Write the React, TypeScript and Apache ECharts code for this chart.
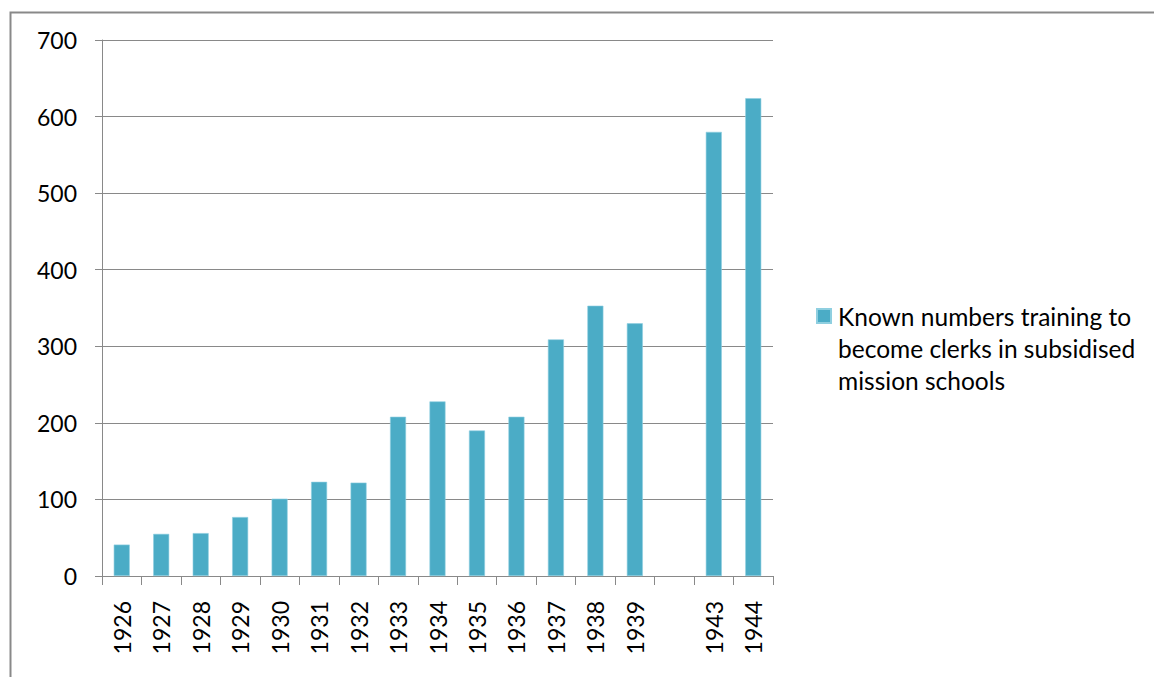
import React, { useEffect, useRef } from "react";
import * as echarts from "echarts";

// Years on the category axis; the blank entry leaves a gap for 1940–1942.
const years = [
  "1926", "1927", "1928", "1929", "1930", "1931", "1932", "1933", "1934",
  "1935", "1936", "1937", "1938", "1939", "", "1943", "1944",
];

// Known numbers of pupils training to become clerks.
const clerks = [
  41, 55, 56, 77, 101, 123, 122, 208, 228, 190, 208, 309, 353, 330, null, 580, 624,
];

const yTicks = { min: 0, max: 700, interval: 100 };

const seriesName =
  "Known numbers training to\nbecome clerks in subsidised\nmission schools";

// Two empty lines ahead of the name keep the legend swatch level with its first line.
const legendLabel = "\n\n" + seriesName;

const FONT = "Lato, 'Open Sans', sans-serif";
const GREY = "#898989";
const BAR = "#4BACC6";

export default function App() {
  const ref = useRef<HTMLDivElement>(null);

  useEffect(() => {
    if (!ref.current) return;
    const chart = echarts.init(ref.current, null, { renderer: "svg" });
    chart.setOption({
      animation: false,
      backgroundColor: "#ffffff",
      textStyle: { fontFamily: FONT },
      graphic: [
        {
          type: "rect",
          left: 8,
          top: 10,
          shape: { width: 1400, height: 900 },
          style: { fill: "none", stroke: GREY, lineWidth: 2 },
          silent: true,
        },
      ],
      grid: { left: 102, right: 381, top: 40, bottom: 101 },
      legend: {
        left: 816,
        top: 236,
        padding: 0,
        orient: "vertical",
        icon: "rect",
        itemWidth: 14,
        itemHeight: 14,
        selectedMode: false,
        formatter: () => legendLabel,
        textStyle: {
          fontFamily: FONT,
          fontSize: 24.5,
          color: "#000",
          lineHeight: 32,
          padding: [0, 0, 0, 2],
        },
        data: [seriesName],
      },
      xAxis: {
        type: "category",
        data: years,
        axisLine: { show: true, lineStyle: { color: GREY, width: 1 } },
        axisTick: { show: true, length: 9, lineStyle: { color: GREY } },
        axisLabel: {
          interval: 0,
          rotate: 90,
          margin: 25,
          fontFamily: FONT,
          fontSize: 23,
          color: "#000",
        },
      },
      yAxis: {
        type: "value",
        min: yTicks.min,
        max: yTicks.max,
        interval: yTicks.interval,
        axisLine: { show: true, lineStyle: { color: GREY, width: 1 } },
        axisTick: { show: true, length: 7, lineStyle: { color: GREY } },
        splitLine: { show: true, lineStyle: { color: GREY, width: 1 } },
        axisLabel: {
          margin: 25,
          fontFamily: FONT,
          fontSize: 23,
          color: "#000",
        },
      },
      series: [
        {
          name: seriesName,
          type: "bar",
          data: clerks,
          barWidth: 16,
          itemStyle: { color: BAR, borderColor: "#8fcfe0", borderWidth: 0.6 },
        },
      ],
    });
    return () => chart.dispose();
  }, []);

  return (
    <div
      ref={ref}
      style={{ position: "absolute", left: 0, top: 0, width: 1154, height: 677 }}
    />
  );
}
